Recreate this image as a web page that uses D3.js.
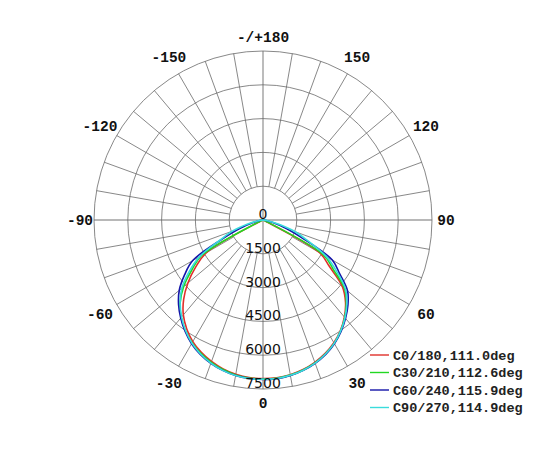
<!DOCTYPE html>
<html>
<head>
<meta charset="utf-8">
<style>
    body { margin: 0; background: #fff; }
</style>
</head>
<body>
<script src="https://cdn.jsdelivr.net/npm/d3@7"></script>
<script>
    // gamma angles (deg), 0 = straight down, + to the right
    let gammas = [-90,-85,-80,-75,-70,-65,-60,-55,-50,-45,-40,-35,-30,-25,-20,-15,-10,-5,
                  0,5,10,15,20,25,30,35,40,45,50,55,60,65,70,75,80,85,90]

    // luminous intensity (cd) per C-plane pair
    let c0_180  = [0,0,10,20,60,150,2900,3650,4350,4980,5500,5900,6230,6480,6680,6840,6950,7020,
                   7040,7030,6970,6870,6720,6530,6290,5990,5620,5180,4600,3600,2900,150,60,20,10,0,0]
    let c30_210 = [0,0,10,30,90,300,3150,3850,4600,5200,5650,6000,6300,6530,6720,6870,6980,7040,
                   7060,7050,6990,6890,6750,6560,6320,6010,5650,5230,4720,3800,3100,300,90,30,10,0,0]
    let c60_240 = [0,40,150,450,1100,2000,3600,4250,4850,5300,5680,6030,6340,6580,6770,6910,7010,7060,
                   7080,7070,7010,6910,6770,6580,6340,6040,5700,5330,4900,4150,3550,2000,1100,450,150,40,0]
    let c90_270 = [0,60,250,700,1450,2100,3250,4000,4700,5200,5620,5990,6310,6560,6760,6910,7010,7060,
                   7070,7060,7000,6900,6760,6560,6320,6010,5660,5260,4780,4000,3250,2200,1500,700,250,60,0]

    let series = [
        {name: "C0/180,111.0deg",  values: c0_180,  color: "#e0302a"},
        {name: "C30/210,112.6deg", values: c30_210, color: "#22d822"},
        {name: "C60/240,115.9deg", values: c60_240, color: "#1414a8"},
        {name: "C90/270,114.9deg", values: c90_270, color: "#3adcdc"}
    ]

    let ringValues = [1500, 3000, 4500, 6000, 7500]
    let ringLabels = ["0", "1500", "3000", "4500", "6000", "7500"]
    let angleTicks = [180, 150, 120, 90, 60, 30, 0, -30, -60, -90, -120, -150]
    let angleLabels = ["-/+180", "150", "120", "90", "60", "30", "0", "-30", "-60", "-90", "-120", "-150"]

    let cx = 263, cy = 220, R = 169

    let svg = d3.select("body").append("svg")
                .attr("width", 550).attr("height", 450)

    let r = d3.scaleLinear().domain([0, 7500]).range([0, R])
    let rad = d => d * Math.PI / 180
    let px = (g, v) => cx + r(v) * Math.sin(rad(g))
    let py = (g, v) => cy + r(v) * Math.cos(rad(g))

    let grid = svg.append("g")

    // spokes every 10 deg from the first ring outward
    let spokes = d3.range(0, 360, 10).filter(d => d % 90 != 0)
    grid.selectAll("line.spoke").data(spokes).enter().append("line")
        .attr("x1", d => px(d, ringValues[0])).attr("y1", d => py(d, ringValues[0]))
        .attr("x2", d => px(d, 7500)).attr("y2", d => py(d, 7500))
        .attr("stroke", "#6a6a6a").attr("stroke-width", 0.8)

    // main axes through the centre
    grid.selectAll("line.axis").data([0, 90]).enter().append("line")
        .attr("x1", d => px(d, 7500)).attr("y1", d => py(d, 7500))
        .attr("x2", d => px(d + 180, 7500)).attr("y2", d => py(d + 180, 7500))
        .attr("stroke", "#a0a0a0").attr("stroke-width", 1.4)

    grid.selectAll("circle").data(ringValues).enter().append("circle")
        .attr("cx", cx).attr("cy", cy).attr("r", d => r(d))
        .attr("fill", "none").attr("stroke", "#6a6a6a").attr("stroke-width", 0.8)

    // curves
    let line = d3.line()
        .x((d, i) => px(gammas[i], d))
        .y((d, i) => py(gammas[i], d))
        .curve(d3.curveCatmullRom.alpha(0.5))

    svg.selectAll("path.curve").data(series).enter().append("path")
        .attr("d", d => line(d.values))
        .attr("fill", "none").attr("stroke", d => d.color).attr("stroke-width", 1.6)

    // ring labels below the centre
    svg.selectAll("text.ring").data(ringLabels).enter().append("text")
        .attr("x", cx).attr("y", (d, i) => cy + r(i * 1500) - 1)
        .attr("text-anchor", "middle")
        .attr("font-family", "DejaVu Sans").attr("font-size", 14).attr("fill", "#111")
        .text(d => d)

    // angle labels around the rim
    svg.selectAll("text.angle").data(angleTicks).enter().append("text")
        .attr("x", d => cx + (R + 14 + 6 * Math.abs(Math.sin(rad(2 * d)))) * Math.sin(rad(d)))
        .attr("y", d => cy + (R + 14 + 6 * Math.abs(Math.sin(rad(2 * d)))) * Math.cos(rad(d)))
        .attr("dy", "0.36em")
        .attr("text-anchor", "middle")
        .attr("font-family", "Liberation Mono").attr("font-weight", "bold")
        .attr("font-size", 14.5).attr("fill", "#111")
        .text((d, i) => angleLabels[i])

    // legend
    let leg = svg.append("g").attr("transform", "translate(370,355)")
    let rows = leg.selectAll("g").data(series).enter().append("g")
        .attr("transform", (d, i) => "translate(0," + i * 17.5 + ")")
    rows.append("line").attr("x1", 0).attr("x2", 19).attr("y1", 0).attr("y2", 0)
        .attr("stroke", d => d.color).attr("stroke-width", 1.4)
    rows.append("text").attr("x", 23).attr("dy", "0.36em")
        .attr("font-family", "Liberation Mono").attr("font-weight", "bold")
        .attr("font-size", 13.5).attr("fill", "#222")
        .text(d => d.name)
</script>
</body>
</html>
